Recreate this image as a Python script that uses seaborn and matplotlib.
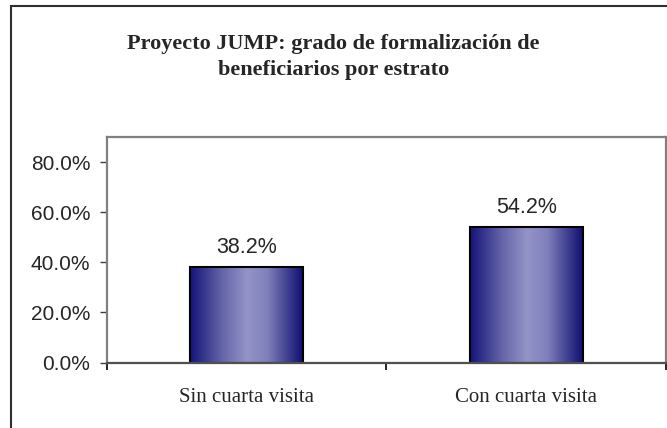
import numpy as np
import pandas as pd
import matplotlib
matplotlib.use("Agg")
import matplotlib.pyplot as plt
import seaborn as sns
from matplotlib.colors import LinearSegmentedColormap
from matplotlib.patches import Rectangle
from matplotlib.ticker import PercentFormatter, FixedLocator

# datos del grafico
estratos = ["Sin cuarta visita", "Con cuarta visita"]
formalizados = [0.382, 0.542]
titulo = "Proyecto JUMP: grado de formalización de\nbeneficiarios por estrato"

df = pd.DataFrame({"estrato": estratos, "valor": formalizados})

sns.set_style("white")
plt.rcParams["font.family"] = ["Liberation Sans", "DejaVu Sans"]

fig = plt.figure(figsize=(6.67, 4.28), dpi=100)
ax = fig.add_axes([0.1604, 0.153, 0.838, 0.527])

sns.barplot(data=df, x="estrato", y="valor", ax=ax, width=0.405,
            color="#4a4a9a", edgecolor="black", linewidth=1.5)

# relleno degradado tipo Excel
grad = LinearSegmentedColormap.from_list(
    "barra", [(0.0, "#14147a"), (0.28, "#6464a8"), (0.5, "#9494c8"),
              (0.68, "#8080bc"), (1.0, "#0c0c6e")])
g = np.linspace(0, 1, 256).reshape(1, -1)
for p in ax.patches:
    x0, y0 = p.get_x(), p.get_y()
    w, h = p.get_width(), p.get_height()
    p.set_facecolor("none")
    im = ax.imshow(g, cmap=grad, aspect="auto", extent=[x0, x0 + w, y0, y0 + h],
                   zorder=p.get_zorder() - 0.1, interpolation="bicubic")
    im.set_clip_path(p)
    ax.annotate(f"{h * 100:.1f}%", (x0 + w / 2, y0 + h), xytext=(0, 6),
                textcoords="offset points", ha="center", va="bottom",
                fontsize=15.5, family="Liberation Sans")

ax.set_xlim(-0.5, 1.5)
ax.set_ylim(0, 0.9)
ax.yaxis.set_major_locator(FixedLocator([0, 0.2, 0.4, 0.6, 0.8]))
ax.yaxis.set_major_formatter(PercentFormatter(xmax=1, decimals=1))
ax.set_xlabel("")
ax.set_ylabel("")

ax.tick_params(axis="y", which="major", direction="out", length=5, width=1,
               color="#404040", pad=7, labelsize=15, left=True)
ax.tick_params(axis="x", which="major", length=0, pad=18, labelsize=15)
ax.xaxis.set_minor_locator(FixedLocator([-0.5, 0.5, 1.5]))
ax.tick_params(axis="x", which="minor", direction="out", length=5, width=1.2,
               color="black", bottom=True)
for lab in ax.get_xticklabels():
    lab.set_family("Liberation Serif")

for s in ["left", "top", "right"]:
    ax.spines[s].set_color("#808080")
    ax.spines[s].set_linewidth(1.6)
ax.spines["bottom"].set_color("#505050")
ax.spines["bottom"].set_linewidth(1.6)

fig.text(0.5, 0.866, titulo, ha="center", va="center", fontsize=16,
         fontweight="bold", family="Liberation Serif", linespacing=1.4)

# marco exterior
fig.patches.append(Rectangle((0.016, -0.05), 1.2, 1.037, transform=fig.transFigure,
                             fill=False, edgecolor="#303030", linewidth=1.5))

fig.savefig("out.png", dpi=100)
